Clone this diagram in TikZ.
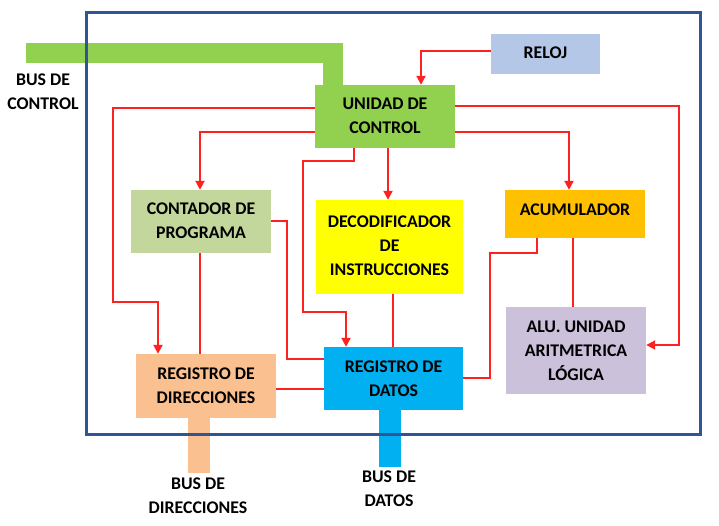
\documentclass[tikz,border=0pt]{standalone}
\usepackage{fontspec}
\setmainfont{Carlito}
\usetikzlibrary{arrows.meta}
\definecolor{ucgreen}{HTML}{92D050}
\definecolor{relojc}{HTML}{B4C7E7}
\definecolor{cpc}{HTML}{C3D69B}
\definecolor{decc}{HTML}{FFFF00}
\definecolor{acuc}{HTML}{FFC000}
\definecolor{aluc}{HTML}{CCC1DA}
\definecolor{rdirc}{HTML}{FAC090}
\definecolor{rdatc}{HTML}{00B0F0}
\definecolor{framec}{HTML}{2F5597}
\definecolor{linec}{HTML}{FF2020}
\tikzset{
  box/.style={rectangle, draw=none, inner sep=0pt, align=center,
    font=\fontsize{17.8}{24}\selectfont\bfseries},
  lbl/.style={inner sep=0pt, align=center, font=\fontsize{17.8}{24}\selectfont\bfseries},
  con/.style={draw=linec, line width=2pt},
  arr/.style={con, -{Triangle[length=9pt,width=9pt]}},
  frm/.style={draw=framec, line width=3pt}
}
\begin{document}
\begin{tikzpicture}[x=1pt,y=-1pt]
\useasboundingbox (0,0) rectangle (719,526);
% boxes
\node[box, fill=ucgreen, minimum width=140pt, minimum height=63pt] (uc) at (385,116.5) {\raisebox{2pt}{\begin{tabular}{@{}c@{}}UNIDAD DE\\CONTROL\end{tabular}}};
\node[box, fill=relojc, minimum width=109pt, minimum height=40pt] (reloj) at (545.5,54) {\raisebox{3pt}{RELOJ}};
\node[box, fill=cpc, minimum width=140pt, minimum height=63pt] (cp) at (201,221.5) {\raisebox{3pt}{\begin{tabular}{@{}c@{}}CONTADOR DE\\PROGRAMA\end{tabular}}};
\node[box, fill=decc, minimum width=147pt, minimum height=94pt] (dec) at (389.5,247) {\raisebox{4pt}{\begin{tabular}{@{}c@{}}DECODIFICADOR\\DE\\INSTRUCCIONES\end{tabular}}};
\node[box, fill=acuc, minimum width=140pt, minimum height=48pt] (acu) at (575,214) {\raisebox{8pt}{ACUMULADOR}};
\node[box, fill=aluc, minimum width=140pt, minimum height=87pt] (alu) at (576,350.5) {ALU. UNIDAD\\ARITMETRICA\\LÓGICA};
\node[box, fill=rdirc, minimum width=140pt, minimum height=64pt] (rdir) at (206,386) {REGISTRO DE\\DIRECCIONES};
\node[box, fill=rdatc, minimum width=139pt, minimum height=63pt] (rdat) at (393.5,378.5) {REGISTRO DE\\DATOS};
% buses
\draw[ucgreen, line width=20pt] (26,53) -| (uc.north -| 333,0);
\draw[rdirc, line width=22pt] (rdir.south -| 199,0) -- (199,473);
\draw[rdatc, line width=22pt] (rdat.south -| 390,0) -- (390,467);
\node[lbl] (lbc) at (43,92) {BUS DE\\CONTROL};
\node[lbl] (lbd) at (198,496) {BUS DE\\DIRECCIONES};
\node[lbl] (lbt) at (389,489) {BUS DE\\DATOS};
% connectors
\draw[arr] (reloj.west |- 0,51) -| (uc.north -| 421,0);
\draw[arr] (uc.west |- 0,108) -| (113,302) -| (rdir.north -| 158,0);
\draw[arr] (uc.west |- 0,132) -| (cp.north -| 200,0);
\draw[arr] (uc.south -| 354,0) -- (354,161) -| (303,312) -| (rdat.north -| 346,0);
\draw[arr] (uc.south -| 388,0) -- (dec.north -| 388,0);
\draw[arr] (uc.east |- 0,106) -| (679,345) -- (alu.east |- 0,345);
\draw[arr] (uc.east |- 0,132) -| (acu.north -| 569,0);
\draw[con] (cp.east |- 0,221) -| (287,359) -- (rdat.west |- 0,359);
\draw[con] (cp.south -| 200,0) -- (rdir.north -| 200,0);
\draw[con] (dec.south -| 393,0) -- (rdat.north -| 393,0);
\draw[con] (acu.south -| 573,0) -- (alu.north -| 573,0);
\draw[con] (acu.south -| 537,0) -- (537,253) -| (490,378) -- (rdat.east |- 0,378);
\draw[con] (rdir.east |- 0,389) -- (rdat.west |- 0,389);
% frame
\draw[frm] (86,13) rectangle (700,434);
\end{tikzpicture}
\end{document}
